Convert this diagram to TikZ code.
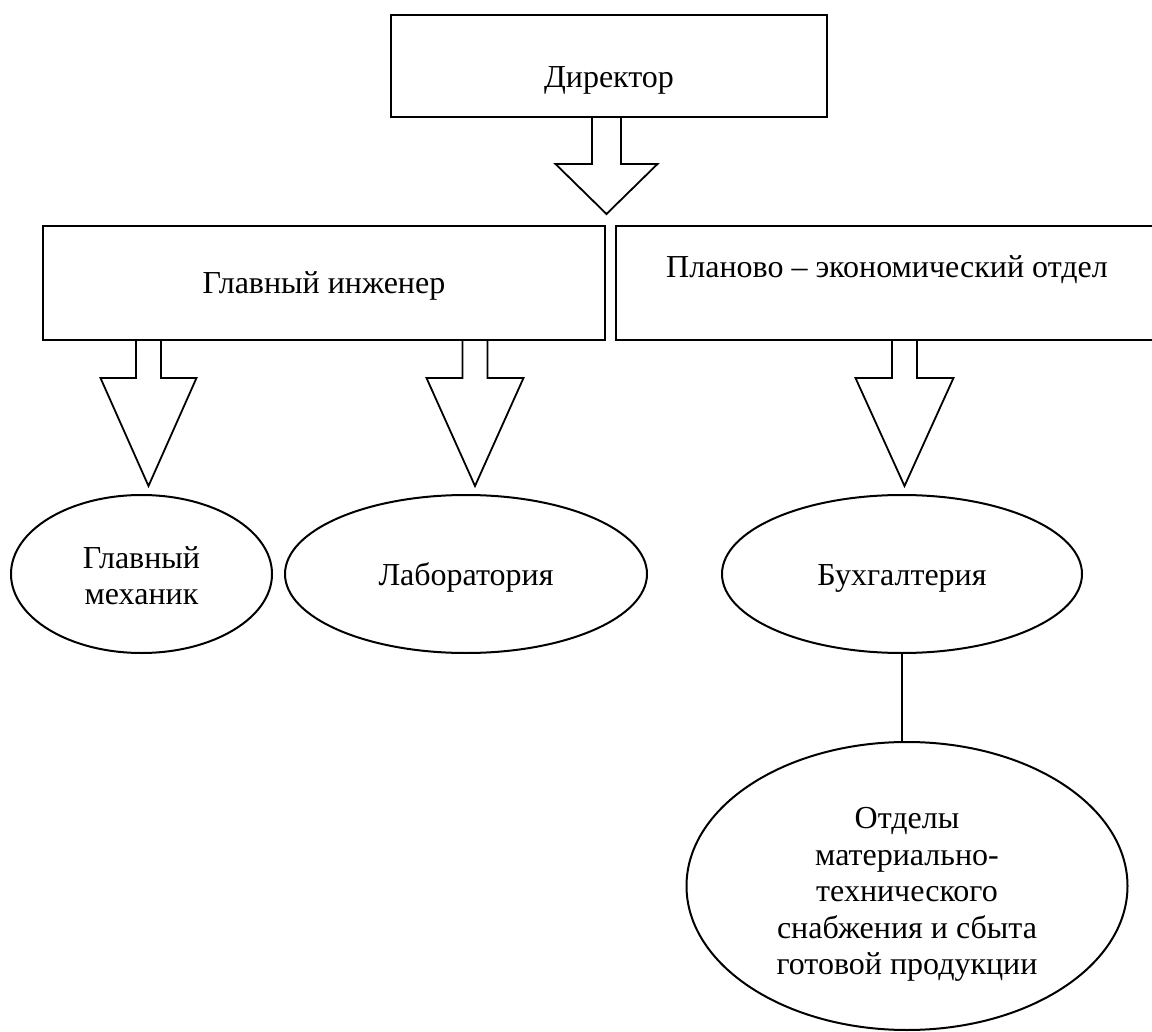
\documentclass[tikz,border=0pt]{standalone}
\usepackage{fontspec}
\setmainfont{Liberation Serif}
\usetikzlibrary{shapes.geometric,calc}
\tikzset{
  txt/.style={font=\fontsize{32}{36.5}\selectfont, align=center},
  boxnode/.style={txt, draw, line width=2pt, rectangle, inner sep=0pt},
  ovalnode/.style={txt, draw, line width=2pt, ellipse, inner sep=0pt},
  arrowshape/.style={draw, line width=1.8pt, line join=miter},
  linkline/.style={draw, line width=1.7pt},
}
% start coordinate, shaft length, head length, half shaft width, half head width
\newcommand\blkarrow[5]{%
  \draw[arrowshape] ($(#1)+(-#4,0)$) -- ++(0,#2) -- ++(#4-#5,0)
    -- ($(#1)+(0,#2+#3)$) -- ($(#1)+(#5,#2)$) -- ++(#4-#5,0) -- ++(0,-#2);}
\begin{document}
\begin{tikzpicture}[x=1pt,y=-1pt]
\clip (0,0) rectangle (1152,1032);
\fill[white] (0,0) rectangle (1152,1032);

% boxes
\node[boxnode, minimum width=436pt, minimum height=102pt, text height=44pt, text depth=0pt] (dir) at (609,66) {Директор};
\node[boxnode, minimum width=562pt, minimum height=114pt, text height=22pt, text depth=0pt] (gi) at (324,283) {Главный инженер};
\node[boxnode, minimum width=542pt, minimum height=114pt, text height=0pt, text depth=11pt] (pe) at (887,283) {Планово – экономический отдел};

% ellipses
\node[ovalnode, minimum width=261pt, minimum height=158pt] (gm) at (141.5,574) {\rule{0pt}{25pt}Главный\\механик};
\node[ovalnode, minimum width=362pt, minimum height=158pt, text height=22pt, text depth=0pt] (lab) at (466,574) {Лаборатория};
\node[ovalnode, minimum width=360pt, minimum height=158pt, text height=22pt, text depth=0pt] (buh) at (902,574) {Бухгалтерия};
\node[ovalnode, minimum width=441pt, minimum height=288pt] (otd) at (907,886) {\rule{0pt}{38pt}Отделы\\материально-\\технического\\снабжения и сбыта\\готовой продукции};

% block arrows
\coordinate (a0) at ($(dir.south)+(-2.5,0)$);
\coordinate (a1) at ($(gi.south)+(-175.5,0)$);
\coordinate (a2) at ($(gi.south)+(151,0)$);
\coordinate (a3) at ($(pe.south)+(17.5,0)$);
\blkarrow{a0}{46}{50}{14.5}{51}
\blkarrow{a1}{37}{108}{12.5}{48}
\blkarrow{a2}{37}{108}{12.5}{48.5}
\blkarrow{a3}{37}{108}{12.5}{49}

% connector
\draw[linkline] (buh.south) -- (buh.south |- otd.north);
\end{tikzpicture}
\end{document}
